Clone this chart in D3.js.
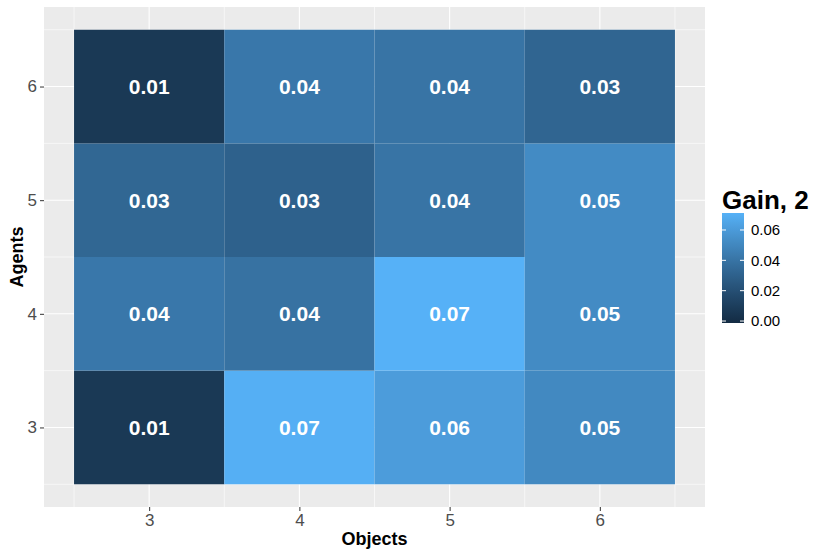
<!DOCTYPE html>
<html>
<head>
<meta charset="utf-8">
<script src="https://cdn.jsdelivr.net/npm/d3@7"></script>
<style>
  body { margin: 0; background: #fff; }
  text { font-family: "Liberation Sans", Arial, sans-serif; }
</style>
</head>
<body>
<svg id="chart" width="830" height="554"></svg>
<script>
// data: objects (x) and agents (y), gain per cell
const objects = [3, 4, 5, 6];
const agents = [3, 4, 5, 6];
// gain[agentIndex][objectIndex]
const gain = [
  [0.007, 0.070, 0.061, 0.051],  // agents 3
  [0.042, 0.039, 0.0712, 0.052], // agents 4
  [0.033, 0.030, 0.040, 0.052],  // agents 5
  [0.007, 0.042, 0.040, 0.032],  // agents 6
];
const gainLimits = [-0.0013, 0.0712];
const legendTicks = [0.00, 0.02, 0.04, 0.06];

const LOW = '#132B43', HIGH = '#56B1F7';
const PANEL = { l: 44, r: 705, t: 7, b: 507 };

const svg = d3.select('#chart');

const x = d3.scaleLinear().domain([2.3, 6.7]).range([PANEL.l, PANEL.r]);
const y = d3.scaleLinear().domain([2.3, 6.7]).range([PANEL.b, PANEL.t]);
const color = d3.scaleLinear().domain(gainLimits).range([LOW, HIGH])
  .interpolate(d3.interpolateLab).clamp(true);

// panel background
svg.append('rect')
  .attr('x', PANEL.l).attr('y', PANEL.t)
  .attr('width', PANEL.r - PANEL.l).attr('height', PANEL.b - PANEL.t)
  .attr('fill', '#EBEBEB');

// grid: minor at tile edges, major at categories
const minor = [2.5, 3.5, 4.5, 5.5, 6.5];
const grid = svg.append('g');
minor.forEach(v => {
  grid.append('line').attr('x1', x(v)).attr('x2', x(v))
    .attr('y1', PANEL.t).attr('y2', PANEL.b)
    .attr('stroke', '#fff').attr('stroke-width', 0.6);
  grid.append('line').attr('y1', y(v)).attr('y2', y(v))
    .attr('x1', PANEL.l).attr('x2', PANEL.r)
    .attr('stroke', '#fff').attr('stroke-width', 0.6);
});
objects.forEach(v => {
  grid.append('line').attr('x1', x(v)).attr('x2', x(v))
    .attr('y1', PANEL.t).attr('y2', PANEL.b)
    .attr('stroke', '#fff').attr('stroke-width', 1.1);
});
agents.forEach(v => {
  grid.append('line').attr('y1', y(v)).attr('y2', y(v))
    .attr('x1', PANEL.l).attr('x2', PANEL.r)
    .attr('stroke', '#fff').attr('stroke-width', 1.1);
});

// tiles
const cells = [];
agents.forEach((a, i) => objects.forEach((o, j) => cells.push({ a, o, v: gain[i][j] })));

const fmt = d3.format('.2f');
const gt = svg.append('g');
gt.selectAll('rect').data(cells).enter().append('rect')
  .attr('x', d => x(d.o - 0.5))
  .attr('y', d => y(d.a + 0.5))
  .attr('width', d => x(d.o + 0.5) - x(d.o - 0.5))
  .attr('height', d => y(d.a - 0.5) - y(d.a + 0.5))
  .attr('fill', d => color(d.v));
gt.selectAll('text').data(cells).enter().append('text')
  .attr('x', d => x(d.o))
  .attr('y', d => y(d.a))
  .attr('dy', '0.35em')
  .attr('text-anchor', 'middle')
  .attr('fill', '#fff')
  .attr('font-weight', 'bold')
  .attr('font-size', 21)
  .text(d => fmt(d.v));

// axes
const xAxis = svg.append('g').attr('transform', `translate(0,${PANEL.b})`)
  .call(d3.axisBottom(x).tickValues(objects).tickSize(4).tickPadding(3).tickFormat(d3.format('d')));
const yAxis = svg.append('g').attr('transform', `translate(${PANEL.l},0)`)
  .call(d3.axisLeft(y).tickValues(agents).tickSize(4).tickPadding(3).tickFormat(d3.format('d')));
[xAxis, yAxis].forEach(g => {
  g.select('.domain').remove();
  g.selectAll('.tick line').attr('stroke', '#333').attr('stroke-width', 1);
  g.selectAll('.tick text').attr('fill', '#4D4D4D').attr('font-size', 17)
    .style('font-family', '"Liberation Sans", Arial, sans-serif');
});

svg.append('text')
  .attr('x', (PANEL.l + PANEL.r) / 2).attr('y', 545)
  .attr('text-anchor', 'middle').attr('font-weight', 'bold').attr('font-size', 18)
  .text('Objects');
svg.append('text')
  .attr('transform', `translate(23,${(PANEL.t + PANEL.b) / 2}) rotate(-90)`)
  .attr('text-anchor', 'middle').attr('font-weight', 'bold').attr('font-size', 18)
  .text('Agents');

// legend
const LEG = { x: 722, w: 22, top: 213, bottom: 323 };
const ly = d3.scaleLinear().domain(gainLimits).range([LEG.bottom, LEG.top]);
const defs = svg.append('defs');
const grad = defs.append('linearGradient').attr('id', 'gainGrad')
  .attr('x1', 0).attr('y1', 1).attr('x2', 0).attr('y2', 0);
d3.range(0, 1.0001, 0.05).forEach(t => {
  grad.append('stop').attr('offset', t)
    .attr('stop-color', color(gainLimits[0] + t * (gainLimits[1] - gainLimits[0])));
});
const leg = svg.append('g');
leg.append('text')
  .attr('x', LEG.x).attr('y', 209)
  .attr('font-weight', 'bold').attr('font-size', 26)
  .text('Gain, 2');
leg.append('rect')
  .attr('x', LEG.x).attr('y', LEG.top)
  .attr('width', LEG.w).attr('height', LEG.bottom - LEG.top)
  .attr('fill', 'url(#gainGrad)');
legendTicks.forEach(v => {
  leg.append('line').attr('x1', LEG.x).attr('x2', LEG.x + 4)
    .attr('y1', ly(v)).attr('y2', ly(v)).attr('stroke', '#fff').attr('stroke-width', 1);
  leg.append('line').attr('x1', LEG.x + LEG.w - 4).attr('x2', LEG.x + LEG.w)
    .attr('y1', ly(v)).attr('y2', ly(v)).attr('stroke', '#fff').attr('stroke-width', 1);
  leg.append('text')
    .attr('x', LEG.x + LEG.w + 7).attr('y', ly(v)).attr('dy', '0.35em')
    .attr('font-size', 15).attr('fill', '#000')
    .text(fmt(v));
});
</script>
</body>
</html>
